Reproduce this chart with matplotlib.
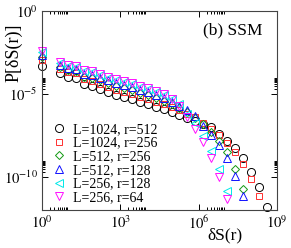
import matplotlib
matplotlib.use("Agg")
import matplotlib.pyplot as plt
import numpy as np
from matplotlib.ticker import FixedLocator, NullFormatter

plt.rcParams['font.family'] = ['Liberation Serif', 'DejaVu Serif']
plt.rcParams['mathtext.fontset'] = 'stix'

# log10 of deltaS(r) bin positions
log_ds = [0.0, 0.69, 0.995, 1.30, 1.605, 1.91, 2.215, 2.52, 2.825, 3.13, 3.435,
          3.74, 4.045, 4.35, 4.655, 4.96, 5.265, 5.57, 5.875, 6.18, 6.485,
          6.79, 7.095, 7.40, 7.705, 8.01, 8.315, 8.62]

labels = ["L=1024, r=512", "L=1024, r=256", "L=512, r=256",
          "L=512, r=128", "L=256, r=128", "L=256, r=64"]

# log10 of P[deltaS(r)]
logP_1024_512 = [-3.29, -3.71, -3.95, -4.01, -4.43, -4.55, -4.73, -4.91, -5.09, -5.21,
                 -5.33, -5.51, -5.63, -5.81, -5.93, -6.11, -6.29, -6.47, -6.65, -6.83,
                 -7.01, -7.43, -7.84, -8.26, -8.86, -9.70, -10.60, -11.80]
logP_1024_256 = [-2.93, -3.47, -3.65, -3.71, -4.13, -4.25, -4.43, -4.61, -4.79, -4.91,
                 -5.03, -5.21, -5.33, -5.51, -5.63, -5.81, -5.99, -6.23, -6.41, -6.77,
                 -7.13, -7.49, -7.96, -8.50, -9.22, -10.12, -11.14]
logP_512_256 = [-2.75, -3.35, -3.53, -3.59, -3.95, -4.01, -4.19, -4.37, -4.55, -4.67,
                -4.79, -4.97, -5.09, -5.27, -5.45, -5.63, -5.87, -6.11, -6.47, -6.83,
                -7.31, -7.84, -8.50, -9.52, -10.72]
logP_512_128 = [-2.63, -3.23, -3.41, -3.47, -3.77, -3.83, -4.01, -4.19, -4.37, -4.49,
                -4.61, -4.79, -4.91, -5.09, -5.27, -5.51, -5.75, -5.99, -6.35, -6.95,
                -7.49, -8.08, -8.86, -9.94, -11.14]
logP_256_128 = [-2.46, -3.11, -3.29, -3.35, -3.59, -3.65, -3.83, -4.01, -4.19, -4.31,
                -4.43, -4.61, -4.73, -4.91, -5.09, -5.33, -5.63, -6.23, -6.77, -7.54,
                -8.44, -9.52, -10.84]
logP_256_64 = [-2.40, -3.05, -3.23, -3.29, -3.53, -3.59, -3.77, -3.95, -4.13, -4.25,
               -4.37, -4.55, -4.67, -4.85, -5.03, -5.33, -5.75, -6.41, -7.13, -7.90,
               -8.86, -10.00, -11.32]

series = [logP_1024_512, logP_1024_256, logP_512_256, logP_512_128, logP_256_128, logP_256_64]
markers = ['o', 's', 'D', '^', '<', 'v']
colors = ['black', '#ff3030', '#119911', '#1010ff', '#00e8e8', '#ff10ff']
msizes = [5.8, 5.0, 4.2, 5.2, 5.2, 5.2]

fig = plt.figure(figsize=(2.91, 2.48), dpi=100)
ax = fig.add_axes([0.1443, 0.1532, 0.8077, 0.8024])

for s, m, c, ms, lab in zip(series, markers, colors, msizes, labels):
    xs = 10 ** np.array(log_ds[:len(s)])
    ys = 10 ** np.array(s)
    ax.plot(xs, ys, linestyle='none', marker=m, mfc='none', mec=c, ms=ms,
            mew=0.7, label=lab, clip_on=False)

ax.set_xscale('log')
ax.set_yscale('log')
ax.set_xlim(1, 1e9)
ax.set_ylim(1e-12, 1)

ax.xaxis.set_major_locator(FixedLocator([1, 1e3, 1e6, 1e9]))
ax.xaxis.set_minor_locator(FixedLocator([k * 10**e for e in (0, 3, 6) for k in range(2, 10)]))
ax.yaxis.set_major_locator(FixedLocator([1e-10, 1e-5, 1]))
ax.yaxis.set_minor_locator(FixedLocator([k * 10**e for e in (-10, -5) for k in range(2, 10)]))
ax.xaxis.set_minor_formatter(NullFormatter())
ax.yaxis.set_minor_formatter(NullFormatter())
ax.set_xticklabels([r'$10^{0}$', r'$10^{3}$', r'$10^{6}$', r'$10^{9}$'])
ax.set_yticklabels([r'$10^{-10}$', r'$10^{-5}$', r'$10^{0}$'])

ax.tick_params(which='both', direction='in', top=True, right=True, labelsize=10.5, width=0.7)
ax.tick_params(which='major', length=4, pad=3)
ax.tick_params(which='minor', length=2)
for sp in ax.spines.values():
    sp.set_linewidth(0.8)
    sp.set_color('#444444')

ax.set_ylabel('P[δS(r)]', fontsize=13)
ax.yaxis.set_label_coords(-0.083, 0.79)
fig.text(0.773, 0.052, 'δS(r)', fontsize=12.5, ha='center', va='center')

ax.text(0.94, 0.945, '(b) SSM', transform=ax.transAxes, ha='right', va='top', fontsize=12.5)

leg = ax.legend(loc='lower left', bbox_to_anchor=(0.0, -0.02), frameon=False,
                fontsize=10, handlelength=1.0, handletextpad=0.5, labelspacing=0.05,
                borderaxespad=0.3)

fig.savefig('out.png', dpi=100)
